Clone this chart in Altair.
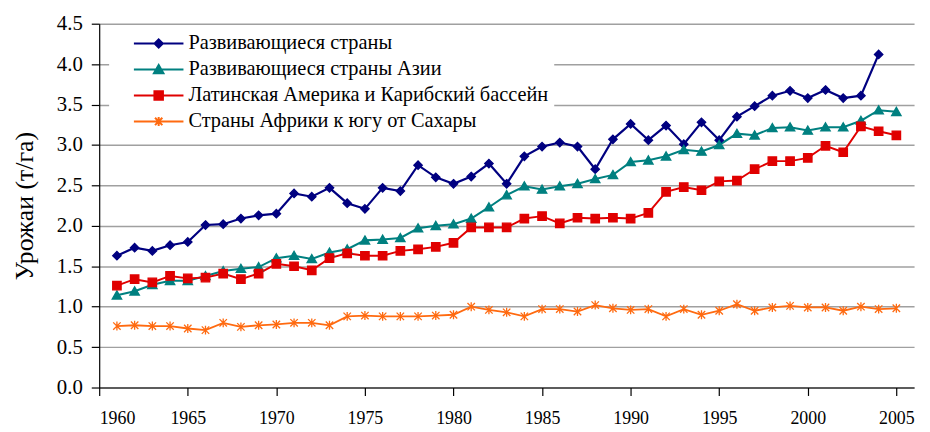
import altair as alt
import pandas as pd

years = list(range(1961, 2006))
series_names = [
    "Развивающиеся страны",
    "Развивающиеся страны Азии",
    "Латинская Америка и Карибский бассейн",
    "Страны Африки к югу от Сахары",
]
colors = ["#000080", "#008080", "#e00000", "#ff6a10"]

developing = [1.63, 1.73, 1.69, 1.76, 1.80, 2.01, 2.02, 2.09, 2.13, 2.15, 2.40, 2.36,
              2.47, 2.28, 2.21, 2.47, 2.43, 2.75, 2.60, 2.52, 2.61, 2.77, 2.52, 2.86, 2.98,
              3.03, 2.98, 2.70, 3.07, 3.26, 3.06, 3.24, 3.01, 3.28, 3.06,
              3.35, 3.48, 3.61, 3.67, 3.58, 3.68, 3.58, 3.61, 4.12, None]
asia = [1.14, 1.19, 1.27, 1.32, 1.32, 1.38, 1.44, 1.47, 1.49, 1.60, 1.63, 1.59,
        1.67, 1.71, 1.82, 1.83, 1.85, 1.97, 2.00, 2.02, 2.09, 2.23, 2.38, 2.49, 2.45,
        2.49, 2.52, 2.58, 2.63, 2.79, 2.81, 2.86, 2.94, 2.92, 3.00,
        3.14, 3.12, 3.21, 3.22, 3.18, 3.22, 3.22, 3.30, 3.43, 3.41]
latam = [1.26, 1.34, 1.30, 1.38, 1.35, 1.36, 1.41, 1.34, 1.41, 1.53, 1.50, 1.45,
         1.60, 1.66, 1.63, 1.63, 1.69, 1.71, 1.74, 1.79, 1.98, 1.98, 1.98, 2.09, 2.12,
         2.03, 2.10, 2.09, 2.10, 2.09, 2.16, 2.42, 2.48, 2.44, 2.55,
         2.56, 2.70, 2.80, 2.80, 2.84, 2.99, 2.91, 3.23, 3.17, 3.12]
africa = [0.76, 0.77, 0.76, 0.76, 0.73, 0.71, 0.80, 0.75, 0.77, 0.78, 0.80, 0.80,
          0.77, 0.88, 0.89, 0.88, 0.88, 0.88, 0.89, 0.90, 1.00, 0.96, 0.93, 0.88, 0.97,
          0.97, 0.94, 1.02, 0.98, 0.96, 0.97, 0.88, 0.97, 0.90, 0.95,
          1.03, 0.95, 0.99, 1.01, 0.99, 0.99, 0.95, 1.00, 0.97, 0.98]

x_ticks = [1960, 1965, 1970, 1975, 1980, 1985, 1990, 1995, 2000, 2005]
y_ticks = [0.0, 0.5, 1.0, 1.5, 2.0, 2.5, 3.0, 3.5, 4.0, 4.5]

rows = []
for name, vals in zip(series_names, [developing, asia, latam, africa]):
    for yr, v in zip(years, vals):
        if v is not None:
            rows.append({"year": yr, "value": v, "series": name})
df = pd.DataFrame(rows)

point_shapes = [
    "M0,-0.85L0.85,0L0,0.85L-0.85,0Z",
    "M0,-0.9L0.95,0.75L-0.95,0.75Z",
    "M-0.85,-0.85H0.85V0.85H-0.85Z",
    "M-0.75,-0.75L0.75,0.75M-0.75,0.75L0.75,-0.75M0,-0.9V0.9",
]
legend_shapes = [
    "M-2.5,0H2.5M0,-0.42L0.42,0L0,0.42L-0.42,0Z",
    "M-2.5,0H2.5M0,-0.45L0.48,0.38L-0.48,0.38Z",
    "M-2.5,0H2.5M-0.43,-0.43H0.43V0.43H-0.43Z",
    "M-2.5,0H2.5M-0.37,-0.37L0.37,0.37M-0.37,0.37L0.37,-0.37M0,-0.45V0.45",
]

serif = "serif"

x_enc = alt.X(
    "year:Q",
    scale=alt.Scale(domain=[1960, 2006], nice=False, zero=False),
    axis=alt.Axis(values=x_ticks, format="d", grid=False, title=None,
                  labelFontSize=18, labelPadding=14, tickSize=8),
)
y_enc = alt.Y(
    "value:Q",
    scale=alt.Scale(domain=[0, 4.5], nice=False, zero=True),
    axis=alt.Axis(values=y_ticks, format=".1f", title="Урожаи (т/га)",
                  labelFontSize=21, labelPadding=9, tickSize=8,
                  titleFontSize=26, titleFontWeight="normal", titlePadding=19,
                  grid=True, gridColor="#a0a0a0", gridWidth=1.5),
)

col_scale = alt.Scale(domain=series_names, range=colors)

lines = alt.Chart(df).mark_line().encode(
    x=x_enc,
    y=y_enc,
    stroke=alt.Stroke("series:N", scale=col_scale, legend=None),
    strokeWidth=alt.StrokeWidth("series:N",
                                scale=alt.Scale(domain=series_names, range=[2.2, 1.8, 1.8, 1.8]),
                                legend=None),
)

points = alt.Chart(df).mark_point(filled=True, size=100, strokeWidth=1.3, opacity=1).encode(
    x=x_enc,
    y=y_enc,
    fill=alt.Fill("series:N", scale=col_scale, legend=None),
    stroke=alt.Stroke("series:N", scale=col_scale, legend=None),
    shape=alt.Shape("series:N", scale=alt.Scale(domain=series_names, range=point_shapes), legend=None),
)

leg = alt.Legend(
    title=None, orient="none", legendX=10, legendY=4, direction="vertical",
    fillColor="white", padding=5, symbolSize=400, symbolStrokeWidth=2,
    symbolOpacity=1, symbolOffset=34, labelFont=serif, labelFontSize=20.5,
    labelColor="black", labelOffset=19, rowPadding=4.2, labelLimit=600,
)

legend_layer = alt.Chart(df).mark_point(filled=True, opacity=0).encode(
    x=x_enc,
    y=y_enc,
    fill=alt.Fill("series:N", scale=col_scale, legend=leg),
    stroke=alt.Stroke("series:N", scale=col_scale, legend=leg),
    shape=alt.Shape("series:N", scale=alt.Scale(domain=series_names, range=legend_shapes), legend=leg),
)

chart = alt.layer(lines, points, legend_layer).resolve_scale(
    fill="independent", stroke="independent", shape="independent", strokeWidth="independent"
).properties(
    width=822, height=367,
    autosize=alt.AutoSizeParams(type="none"),
    padding={"left": 92, "top": 14, "right": 8, "bottom": 40},
).configure_view(stroke=None).configure_axis(
    labelFont=serif, titleFont=serif, labelColor="black", titleColor="black",
    domainColor="black", tickColor="black", domainWidth=1.2, tickWidth=1.2,
)

chart.save("out.html", embed_options={"renderer": "svg", "actions": False})
